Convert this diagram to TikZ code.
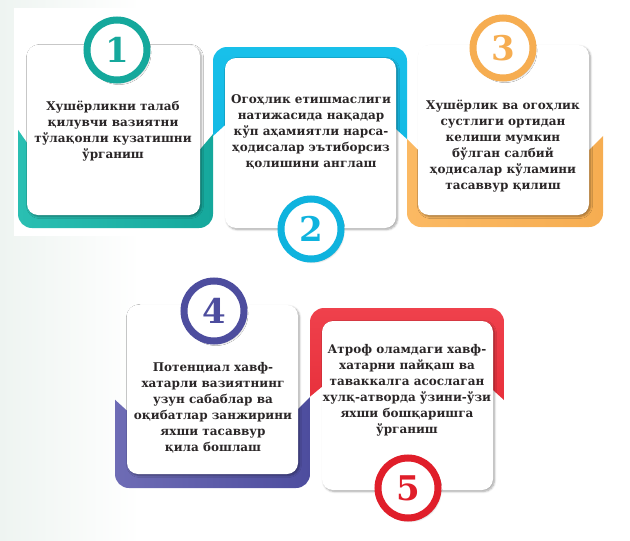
\documentclass[tikz,border=0pt]{standalone}
\usepackage{fontspec}
\setmainfont{DejaVu Serif}
\usetikzlibrary{shadows.blur}
\definecolor{bgmint}{HTML}{EEF4F1}
\definecolor{tealA}{HTML}{2ABFB2}
\definecolor{tealB}{HTML}{15A89C}
\definecolor{blueA}{HTML}{18C0EA}
\definecolor{blueB}{HTML}{0FB3DE}
\definecolor{orangeA}{HTML}{FBB963}
\definecolor{orangeB}{HTML}{F6AD51}
\definecolor{purpleA}{HTML}{6E6CB5}
\definecolor{purpleB}{HTML}{4D4D9E}
\definecolor{redA}{HTML}{EF414C}
\definecolor{redB}{HTML}{E01E2A}
\definecolor{textc}{HTML}{2A2627}
\tikzset{
  cardbox/.style={rectangle, fill=white, rounded corners=11pt, inner sep=0pt,
    blur shadow={shadow xshift=1.5pt, shadow yshift=-1.5pt, shadow blur steps=6, shadow opacity=35}},
  ringnode/.style={circle, fill=white, draw=#1, line width=7pt, minimum size=60pt, inner sep=0pt,
    text=#1, font=\bfseries\fontsize{34}{34}\selectfont,
    blur shadow={shadow xshift=2pt, shadow yshift=-2.5pt, shadow blur steps=6, shadow opacity=40}},
  txt/.style={align=center, inner sep=0pt, text=textc, font=\bfseries\fontsize{12}{16}\selectfont}
}
\begin{document}
\begin{tikzpicture}[x=1pt,y=-1pt]
\useasboundingbox (0,0) rectangle (630,541);
% background
\shade[left color=bgmint, right color=white] (0,0) rectangle (140,541);
\fill[white] (14,8) rectangle (216,236);
% backing 1 (teal, lower part)
\begin{scope}
\clip (0,104) -- (60,190) -- (160,197) -- (240,102) -- (240,300) -- (0,300) -- cycle;
\shade[rounded corners=14pt, left color=tealA, right color=tealB] (18,40) rectangle (213,228);
\end{scope}
% backing 2 (blue, upper part)
\begin{scope}
\clip (200,148) -- (260,93) -- (360,96) -- (420,151) -- (420,0) -- (200,0) -- cycle;
\shade[rounded corners=14pt, top color=blueA, bottom color=blueB] (213,47) rectangle (407,240);
\end{scope}
% backing 3 (orange, lower part)
\begin{scope}
\clip (395,127) -- (460,192) -- (550,189) -- (615,124) -- (615,300) -- (395,300) -- cycle;
\shade[rounded corners=14pt, left color=orangeA, right color=orangeB] (407,40) rectangle (603,227);
\end{scope}
% backing 4 (purple, lower part)
\begin{scope}
\clip (100,386) -- (170,450) -- (250,457) -- (320,387) -- (320,520) -- (100,520) -- cycle;
\shade[rounded corners=14pt, left color=purpleA, right color=purpleB] (115,300) rectangle (310,488);
\end{scope}
% backing 5 (red, upper part)
\begin{scope}
\clip (300,405) -- (360,355) -- (450,351) -- (515,410) -- (515,290) -- (300,290) -- cycle;
\shade[rounded corners=14pt, top color=redA, bottom color=redB] (310,308) rectangle (504,500);
\end{scope}
% white cards
\node[cardbox, minimum width=173pt, minimum height=170pt] (c1) at (113.5,130) {};
\node[cardbox, minimum width=171pt, minimum height=170pt] (c2) at (310.5,143) {};
\node[cardbox, minimum width=171pt, minimum height=170pt] (c3) at (503.5,130) {};
\node[cardbox, minimum width=171pt, minimum height=169pt] (c4) at (212.5,389.5) {};
\node[cardbox, minimum width=171pt, minimum height=169pt] (c5) at (407.5,405.5) {};
% number rings
\node[ringnode=tealB] (n1) at (117,50) {1};
\node[ringnode=blueB] (n2) at (311,229) {2};
\node[ringnode=orangeB] (n3) at (503,48) {3};
\node[ringnode=purpleB] (n4) at (214,311) {4};
\node[ringnode=redB] (n5) at (408,488) {5};
% texts
\node[txt] (t1) at (113,131) {Хушёрликни талаб\\қилувчи вазиятни\\тўлақонли кузатишни\\ўрганиш};
\node[txt] (t2) at (311,132) {Огоҳлик етишмаслиги\\натижасида нақадар\\кўп аҳамиятли нарса-\\ҳодисалар эътиборсиз\\қолишини англаш};
\node[txt] (t3) at (503,146) {Хушёрлик ва огоҳлик\\сустлиги ортидан\\келиши мумкин\\бўлган салбий\\ҳодисалар кўламини\\тасаввур қилиш};
\node[txt] (t4) at (213,408) {Потенциал хавф-\\хатарли вазиятнинг\\узун сабаблар ва\\оқибатлар занжирини\\яхши тасаввур\\қила бошлаш};
\node[txt] (t5) at (407,390) {Атроф оламдаги хавф-\\хатарни пайқаш ва\\таваккалга асослаган\\хулқ-атворда ўзини-ўзи\\яхши бошқаришга\\ўрганиш};
\end{tikzpicture}
\end{document}
